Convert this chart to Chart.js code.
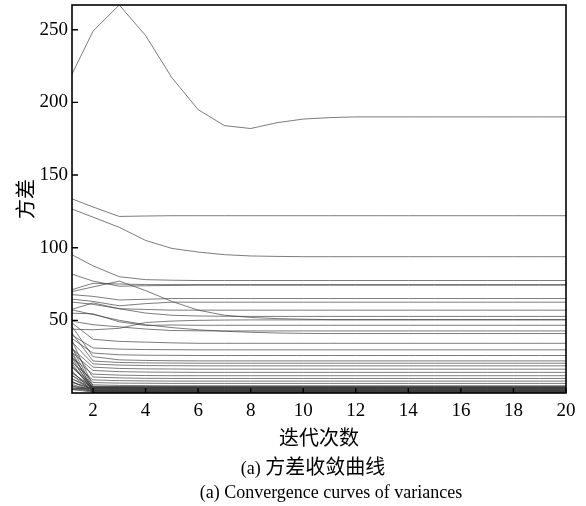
<!DOCTYPE html>
<html lang="zh">
<head>
<meta charset="UTF-8">
<title>方差收敛曲线</title>
<script src="https://cdn.jsdelivr.net/npm/chart.js"></script>
<style>
  body { margin: 0; background: #fff; }
  #wrap { position: relative; width: 586px; height: 506px; }
  .cap { position: absolute; white-space: nowrap; transform: translateX(-50%); color: #000;
         font-family: "Liberation Serif", "Noto Sans CJK SC", serif; font-size: 18px; line-height: 22px; }
  .cap .zh { font-family: "Noto Sans CJK SC", sans-serif; font-size: 20px; }
  #cap1 { left: 313px; top: 455px; }
  #cap2 { left: 331px; top: 481px; }
</style>
</head>
<body>
<div id="wrap">
  <canvas id="varChart" width="586" height="506"></canvas>
  <div class="cap" id="cap1">(a) <span class="zh">方差收敛曲线</span></div>
  <div class="cap" id="cap2">(a) Convergence curves of variances</div>
</div>
<script>
// 迭代次数
const iterations = [1, 2, 3, 4, 5, 6, 7, 8, 9, 10, 11, 12, 13, 14, 15, 16, 17, 18, 19, 20];
const xTicks = [2, 4, 6, 8, 10, 12, 14, 16, 18, 20];
const yTicks = [50, 100, 150, 200, 250];

// 方差较大的曲线
const upperCurves = [
  [212, 249, 267, 246, 217, 195, 184, 182, 186, 188.5, 189.5, 190, 190, 190, 190, 190, 190, 190, 190, 190],
  [135, 128, 121.5, 121.8, 122, 122, 122, 122, 122, 122, 122, 122, 122, 122, 122, 122, 122, 122, 122, 122],
  [128, 121, 114, 105, 99.5, 97, 95.2, 94.3, 94, 93.8, 93.8, 93.8, 93.8, 93.8, 93.8, 93.8, 93.8, 93.8, 93.8, 93.8]
];

// 中间区域
const middleCurves = [
  [97, 87.5, 80, 78, 77.6, 77.4, 77.4, 77.4, 77.4, 77.4, 77.4, 77.4, 77.4, 77.4, 77.4, 77.4, 77.4, 77.4, 77.4, 77.4],
  [83, 77, 73.5, 73.8, 74, 74.2, 74.2, 74.2, 74.2, 74.2, 74.2, 74.2, 74.2, 74.2, 74.2, 74.2, 74.2, 74.2, 74.2, 74.2],
  [69, 73, 77, 70.5, 63, 57, 53.5, 52, 51.2, 50.8, 50.5, 50.5, 50.5, 50.5, 50.5, 50.5, 50.5, 50.5, 50.5, 50.5],
  [70, 75.5, 75, 74.6, 74.6, 74.6, 74.6, 74.6, 74.6, 74.6, 74.6, 74.6, 74.6, 74.6, 74.6, 74.6, 74.6, 74.6, 74.6, 74.6],
  [68, 66.5, 64, 64.5, 65, 65, 65, 65, 65, 65, 65, 65, 65, 65, 65, 65, 65, 65, 65, 65],
  [65, 63, 60, 61.5, 62.5, 62.5, 62.5, 62.5, 62.5, 62.5, 62.5, 62.5, 62.5, 62.5, 62.5, 62.5, 62.5, 62.5, 62.5, 62.5],
  [63, 61, 58, 57.5, 57, 57, 57, 57, 57, 57, 57, 57, 57, 57, 57, 57, 57, 57, 57, 57],
  [56.5, 62, 58, 55, 53.5, 53, 52.8, 52.7, 52.7, 52.7, 52.7, 52.7, 52.7, 52.7, 52.7, 52.7, 52.7, 52.7, 52.7, 52.7],
  [55, 54.5, 49, 46.5, 46.8, 46.6, 46.6, 46.6, 46.6, 46.6, 46.6, 46.6, 46.6, 46.6, 46.6, 46.6, 46.6, 46.6, 46.6, 46.6],
  [50, 47, 45.5, 44, 43, 42.8, 42.7, 42.7, 42.7, 42.7, 42.7, 42.7, 42.7, 42.7, 42.7, 42.7, 42.7, 42.7, 42.7, 42.7],
  [44, 43.5, 44.5, 48.5, 49.5, 50, 50.2, 50.3, 50.3, 50.3, 50.3, 50.3, 50.3, 50.3, 50.3, 50.3, 50.3, 50.3, 50.3, 50.3],
  [58, 54, 50, 47, 45, 43.5, 42.5, 41.8, 41.3, 41, 40.9, 40.9, 40.9, 40.9, 40.9, 40.9, 40.9, 40.9, 40.9, 40.9],
  [51, 37, 35.5, 35, 34.5, 34.2, 34.2, 34.2, 34.2, 34.2, 34.2, 34.2, 34.2, 34.2, 34.2, 34.2, 34.2, 34.2, 34.2, 34.2],
  [42, 31, 30.2, 29.9, 29.8, 29.7, 29.7, 29.7, 29.7, 29.7, 29.7, 29.7, 29.7, 29.7, 29.7, 29.7, 29.7, 29.7, 29.7, 29.7],
  [40, 27.5, 26.3, 26, 25.9, 25.8, 25.8, 25.8, 25.8, 25.8, 25.8, 25.8, 25.8, 25.8, 25.8, 25.8, 25.8, 25.8, 25.8, 25.8]
];

// 快速下降的曲线
const lowerCurves = [
  [51, 25, 22.8, 22.4, 22.2, 22.1, 22.1, 22.1, 22.1, 22.1, 22.1, 22.1, 22.1, 22.1, 22.1, 22.1, 22.1, 22.1, 22.1, 22.1],
  [46, 22, 21, 20.7, 20.6, 20.5, 20.5, 20.5, 20.5, 20.5, 20.5, 20.5, 20.5, 20.5, 20.5, 20.5, 20.5, 20.5, 20.5, 20.5],
  [39, 20, 19.2, 18.9, 18.8, 18.7, 18.7, 18.7, 18.7, 18.7, 18.7, 18.7, 18.7, 18.7, 18.7, 18.7, 18.7, 18.7, 18.7, 18.7],
  [34, 17.8, 16.9, 16.6, 16.5, 16.4, 16.4, 16.4, 16.4, 16.4, 16.4, 16.4, 16.4, 16.4, 16.4, 16.4, 16.4, 16.4, 16.4, 16.4],
  [31, 15.5, 14.7, 14.4, 14.3, 14.2, 14.2, 14.2, 14.2, 14.2, 14.2, 14.2, 14.2, 14.2, 14.2, 14.2, 14.2, 14.2, 14.2, 14.2],
  [27, 13, 12.3, 12, 11.9, 11.9, 11.9, 11.9, 11.9, 11.9, 11.9, 11.9, 11.9, 11.9, 11.9, 11.9, 11.9, 11.9, 11.9, 11.9],
  [36, 11, 10.4, 10.1, 10, 10, 10, 10, 10, 10, 10, 10, 10, 10, 10, 10, 10, 10, 10, 10],
  [24, 9, 8.5, 8.3, 8.2, 8.2, 8.2, 8.2, 8.2, 8.2, 8.2, 8.2, 8.2, 8.2, 8.2, 8.2, 8.2, 8.2, 8.2, 8.2],
  [29, 7.2, 6.8, 6.7, 6.6, 6.6, 6.6, 6.6, 6.6, 6.6, 6.6, 6.6, 6.6, 6.6, 6.6, 6.6, 6.6, 6.6, 6.6, 6.6],
  [21, 5.6, 5.2, 5.1, 5, 5, 5, 5, 5, 5, 5, 5, 5, 5, 5, 5, 5, 5, 5, 5]
];

// 底部密集的曲线
const bottomCurves = [
  [44, 4.6, 4.5, 4.5, 4.5, 4.5, 4.5, 4.5, 4.5, 4.5, 4.5, 4.5, 4.5, 4.5, 4.5, 4.5, 4.5, 4.5, 4.5, 4.5],
  [38, 3.6, 3.5, 3.5, 3.5, 3.5, 3.5, 3.5, 3.5, 3.5, 3.5, 3.5, 3.5, 3.5, 3.5, 3.5, 3.5, 3.5, 3.5, 3.5],
  [35, 1.6, 1.5, 1.5, 1.5, 1.5, 1.5, 1.5, 1.5, 1.5, 1.5, 1.5, 1.5, 1.5, 1.5, 1.5, 1.5, 1.5, 1.5, 1.5],
  [33, 2.6, 2.5, 2.5, 2.5, 2.5, 2.5, 2.5, 2.5, 2.5, 2.5, 2.5, 2.5, 2.5, 2.5, 2.5, 2.5, 2.5, 2.5, 2.5],
  [30, 0.9, 0.8, 0.8, 0.8, 0.8, 0.8, 0.8, 0.8, 0.8, 0.8, 0.8, 0.8, 0.8, 0.8, 0.8, 0.8, 0.8, 0.8, 0.8],
  [27, 3.1, 3, 3, 3, 3, 3, 3, 3, 3, 3, 3, 3, 3, 3, 3, 3, 3, 3, 3],
  [25, 1.3, 1.2, 1.2, 1.2, 1.2, 1.2, 1.2, 1.2, 1.2, 1.2, 1.2, 1.2, 1.2, 1.2, 1.2, 1.2, 1.2, 1.2, 1.2],
  [23, 2.1, 2, 2, 2, 2, 2, 2, 2, 2, 2, 2, 2, 2, 2, 2, 2, 2, 2, 2],
  [21, 4.1, 4, 4, 4, 4, 4, 4, 4, 4, 4, 4, 4, 4, 4, 4, 4, 4, 4, 4],
  [19, 0.6, 0.5, 0.5, 0.5, 0.5, 0.5, 0.5, 0.5, 0.5, 0.5, 0.5, 0.5, 0.5, 0.5, 0.5, 0.5, 0.5, 0.5, 0.5],
  [17, 2.9, 2.8, 2.8, 2.8, 2.8, 2.8, 2.8, 2.8, 2.8, 2.8, 2.8, 2.8, 2.8, 2.8, 2.8, 2.8, 2.8, 2.8, 2.8],
  [15, 1.1, 1, 1, 1, 1, 1, 1, 1, 1, 1, 1, 1, 1, 1, 1, 1, 1, 1, 1],
  [14, 3.9, 3.8, 3.8, 3.8, 3.8, 3.8, 3.8, 3.8, 3.8, 3.8, 3.8, 3.8, 3.8, 3.8, 3.8, 3.8, 3.8, 3.8, 3.8],
  [12, 1.9, 1.8, 1.8, 1.8, 1.8, 1.8, 1.8, 1.8, 1.8, 1.8, 1.8, 1.8, 1.8, 1.8, 1.8, 1.8, 1.8, 1.8, 1.8],
  [10, 0.4, 0.3, 0.3, 0.3, 0.3, 0.3, 0.3, 0.3, 0.3, 0.3, 0.3, 0.3, 0.3, 0.3, 0.3, 0.3, 0.3, 0.3, 0.3],
  [9, 2.3, 2.2, 2.2, 2.2, 2.2, 2.2, 2.2, 2.2, 2.2, 2.2, 2.2, 2.2, 2.2, 2.2, 2.2, 2.2, 2.2, 2.2, 2.2],
  [8, 3.4, 3.3, 3.3, 3.3, 3.3, 3.3, 3.3, 3.3, 3.3, 3.3, 3.3, 3.3, 3.3, 3.3, 3.3, 3.3, 3.3, 3.3, 3.3],
  [7, 1.5, 1.4, 1.4, 1.4, 1.4, 1.4, 1.4, 1.4, 1.4, 1.4, 1.4, 1.4, 1.4, 1.4, 1.4, 1.4, 1.4, 1.4, 1.4],
  [6, 0.7, 0.6, 0.6, 0.6, 0.6, 0.6, 0.6, 0.6, 0.6, 0.6, 0.6, 0.6, 0.6, 0.6, 0.6, 0.6, 0.6, 0.6, 0.6],
  [5, 2.7, 2.6, 2.6, 2.6, 2.6, 2.6, 2.6, 2.6, 2.6, 2.6, 2.6, 2.6, 2.6, 2.6, 2.6, 2.6, 2.6, 2.6, 2.6],
  [4, 1.2, 1.1, 1.1, 1.1, 1.1, 1.1, 1.1, 1.1, 1.1, 1.1, 1.1, 1.1, 1.1, 1.1, 1.1, 1.1, 1.1, 1.1, 1.1],
  [3.5, 3.1, 3, 3, 3, 3, 3, 3, 3, 3, 3, 3, 3, 3, 3, 3, 3, 3, 3, 3],
  [3, 0.5, 0.4, 0.4, 0.4, 0.4, 0.4, 0.4, 0.4, 0.4, 0.4, 0.4, 0.4, 0.4, 0.4, 0.4, 0.4, 0.4, 0.4, 0.4],
  [2.5, 1.8, 1.7, 1.7, 1.7, 1.7, 1.7, 1.7, 1.7, 1.7, 1.7, 1.7, 1.7, 1.7, 1.7, 1.7, 1.7, 1.7, 1.7, 1.7],
  [2, 4, 3.9, 3.9, 3.9, 3.9, 3.9, 3.9, 3.9, 3.9, 3.9, 3.9, 3.9, 3.9, 3.9, 3.9, 3.9, 3.9, 3.9, 3.9],
  [16, 4.3, 4.2, 4.2, 4.2, 4.2, 4.2, 4.2, 4.2, 4.2, 4.2, 4.2, 4.2, 4.2, 4.2, 4.2, 4.2, 4.2, 4.2, 4.2],
  [11, 3.7, 3.6, 3.6, 3.6, 3.6, 3.6, 3.6, 3.6, 3.6, 3.6, 3.6, 3.6, 3.6, 3.6, 3.6, 3.6, 3.6, 3.6, 3.6]
];

const allCurves = upperCurves.concat(middleCurves, lowerCurves, bottomCurves);

const serif = '"Liberation Serif", "Times New Roman", serif';
const zh = '"Noto Sans CJK SC", sans-serif';

// 外框 + 向内的刻度线
const framePlugin = {
  id: 'frame',
  afterDatasetsDraw(chart) {
    const { ctx, chartArea: a, scales: { x, y } } = chart;
    ctx.save();
    ctx.strokeStyle = '#000';
    ctx.lineWidth = 1.6;
    ctx.strokeRect(a.left, a.top, a.right - a.left, a.bottom - a.top);
    ctx.lineWidth = 1.4;
    ctx.beginPath();
    x.ticks.forEach(t => {
      const px = x.getPixelForValue(t.value);
      ctx.moveTo(px, a.bottom);
      ctx.lineTo(px, a.bottom - 5);
    });
    y.ticks.forEach(t => {
      const py = y.getPixelForValue(t.value);
      ctx.moveTo(a.left, py);
      ctx.lineTo(a.left + 6, py);
    });
    ctx.stroke();
    ctx.restore();
  }
};

new Chart(document.getElementById('varChart'), {
  type: 'line',
  data: {
    labels: iterations,
    datasets: allCurves.map((vals, i) => ({
      label: 'curve ' + (i + 1),
      data: vals,
      borderColor: 'rgba(60, 60, 60, 0.75)',
      borderWidth: 0.9,
      pointRadius: 0,
      tension: 0,
      fill: false
    }))
  },
  options: {
    responsive: false,
    animation: false,
    layout: { padding: { top: 5, right: 20, bottom: 54, left: 0 } },
    plugins: {
      legend: { display: false },
      tooltip: { enabled: false }
    },
    scales: {
      x: {
        type: 'linear',
        min: 1.2,
        max: 20,
        grid: { display: false, drawTicks: false },
        border: { display: false },
        afterBuildTicks: s => { s.ticks = xTicks.map(v => ({ value: v })); },
        ticks: { color: '#000', font: { family: serif, size: 19 }, padding: 7, maxRotation: 0 },
        title: { display: true, text: '迭代次数', color: '#000', font: { family: zh, size: 20 }, padding: { top: 0, bottom: 3 } },
        afterFit: s => { s.height = 59; s.paddingLeft = 0; s.paddingRight = 0; }
      },
      y: {
        min: 0,
        max: 267,
        grid: { display: false, drawTicks: false },
        border: { display: false },
        afterBuildTicks: s => { s.ticks = yTicks.map(v => ({ value: v })); },
        ticks: { color: '#000', font: { family: serif, size: 19 }, padding: 4 },
        title: { display: true, text: '方差', color: '#000', font: { family: zh, size: 20 }, padding: { top: 13, bottom: 0 } },
        afterFit: s => { s.width = 72; s.paddingTop = 0; s.paddingBottom = 0; }
      }
    }
  },
  plugins: [framePlugin]
});
</script>
</body>
</html>
